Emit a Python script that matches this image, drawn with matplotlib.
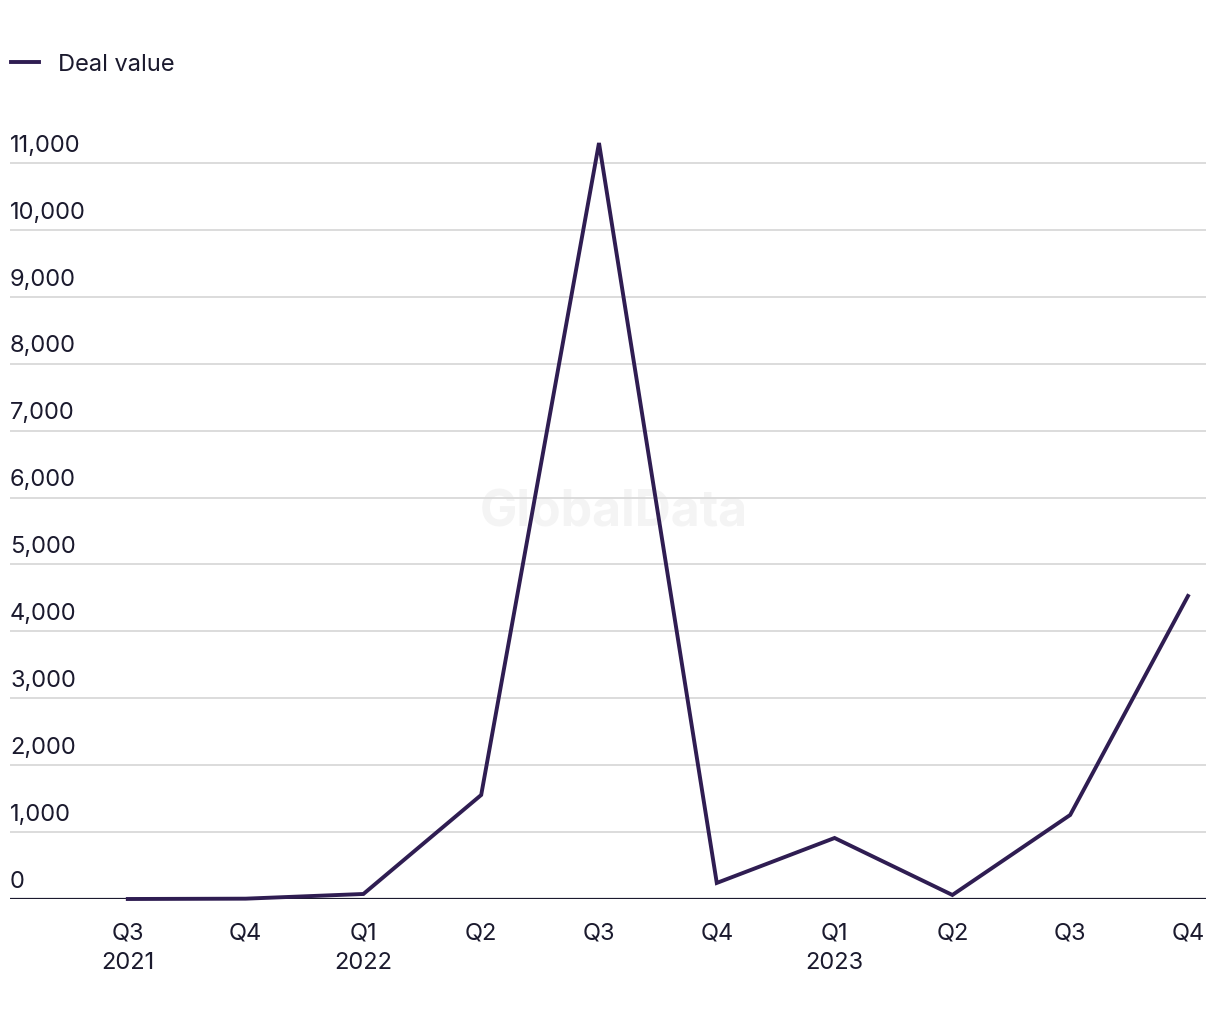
import matplotlib.pyplot as plt

plt.rcParams['font.family'] = ['Inter', 'DejaVu Sans']

quarters = ['Q3\n2021', 'Q4', 'Q1\n2022', 'Q2', 'Q3', 'Q4', 'Q1\n2023', 'Q2', 'Q3', 'Q4']
deal_value = [0, 5, 75, 1555, 11300, 240, 912, 60, 1256, 4529]
yticks = list(range(0, 12000, 1000))

line_color = '#2f1d52'
text_color = '#1b1a2e'
grid_color = '#d9d9d9'

fig = plt.figure(figsize=(12.2, 10.2), dpi=100)
ax = fig.add_axes([10 / 1220, 1 - 900 / 1020, 1196 / 1220, (900 - 130.6) / 1020])

x = range(len(quarters))
ax.plot(x, deal_value, color=line_color, lw=2.8, solid_joinstyle='miter',
        label='Deal value', zorder=3, clip_on=False)

ax.set_xlim(-1.0, 9.153)
ax.set_ylim(0, 11500)
ax.set_yticks(yticks)
ax.set_xticks(list(x))
ax.set_xticklabels(quarters, fontsize=17, color=text_color, linespacing=1.45)
ax.tick_params(axis='x', length=0, pad=16)
ax.tick_params(axis='y', length=0, labelleft=False)

for v in yticks:
    if v > 0:
        ax.axhline(v, color=grid_color, lw=1.3, zorder=1)
    ax.text(0, v + 110, f'{v:,}', transform=ax.get_yaxis_transform(),
            ha='left', va='bottom', fontsize=17, color=text_color)
ax.axhline(0, color=text_color, lw=1.6, zorder=2)

for s in ax.spines.values():
    s.set_visible(False)

ax.text(0.503, 0.497, 'GlobalData', transform=fig.transFigure, ha='center', va='center',
        fontsize=36, fontweight='bold', color='#f4f4f4', zorder=0)

leg = fig.legend(loc='upper left', bbox_to_anchor=(0.0, 0.957), frameon=False,
                 fontsize=17, handlelength=1.2, handletextpad=0.8, borderaxespad=0.0,
                 borderpad=0.45)
for t in leg.get_texts():
    t.set_color(text_color)

fig.savefig('out.png', dpi=100, facecolor='white')
